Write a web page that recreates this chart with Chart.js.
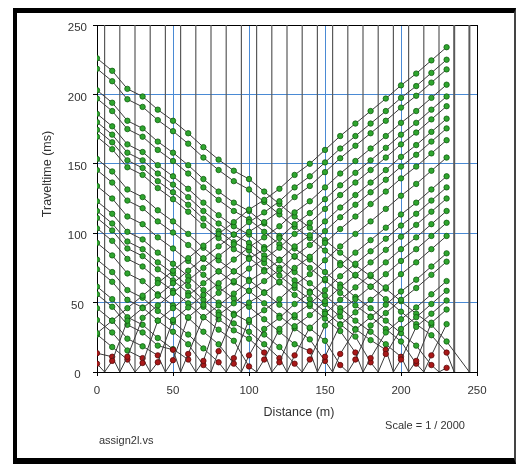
<!DOCTYPE html>
<html>
<head>
<meta charset="utf-8">
<title>Traveltime curves</title>
<script src="https://cdn.jsdelivr.net/npm/chart.js@4.4.1/dist/chart.umd.min.js"></script>
<style>
  html, body { margin: 0; padding: 0; background: #fff; }
  #wrap { position: relative; width: 517px; height: 464px; overflow: hidden; }
  #plot { position: absolute; left: 0; top: 0; }
  #frame {
    position: absolute; left: 13px; top: 8px; width: 503px; height: 456px;
    box-sizing: border-box; pointer-events: none;
    border-left: 4px solid #000; border-top: 5px solid #000;
    border-bottom: 6px solid #000; border-right: 2px solid #444;
  }
</style>
</head>
<body>
<div id="wrap">
  <canvas id="plot" width="517" height="464"></canvas>
  <div id="frame"></div>
</div>
<script>
// geophone positions (m) and shot positions (m)
const receiverX = [0, 10, 20, 30, 40, 50, 60, 70, 80, 90, 100, 110, 120, 130, 140, 150, 160, 170, 180, 190, 200, 210, 220, 230];
const shotX = [-15, 5, 15, 25, 35, 45, 55, 65, 75, 85, 95, 105, 115, 125, 135, 145, 155, 165, 175, 185, 195, 205, 215, 225, 235, 245];

// first-break times (ms) per shot, one value per geophone
const tShotM15 = [28, 37, 46, 55, 64, 73, 82, 91, 99.5, 108, 117, 124, 132, 142, 150, 160, 170, 179, 188, 197, 206.5, 215, 224.5, 234];
const tShot005 = [6, 8, 37, 46, 55, 64, 73, 82, 90.5, 99, 108, 115, 123, 133, 141, 151, 161, 170, 179, 188, 197.5, 206, 215.5, 225];
const tShot015 = [13.5, 11, 11, 39, 48, 57, 66, 75, 83.5, 92, 101, 108, 116, 126, 134, 144, 154, 163, 172, 181, 190.5, 199, 208.5, 218];
const tShot025 = [27, 18, 9, 6.5, 37, 46, 55, 64, 72.5, 81, 90, 97, 105, 115, 123, 133, 143, 152, 161, 170, 179.5, 188, 197.5, 207];
const tShot035 = [37.5, 28.5, 15.5, 10, 7, 37.5, 46.5, 55.5, 64, 72.5, 81.5, 88.5, 96.5, 106.5, 114.5, 124.5, 134.5, 143.5, 152.5, 161.5, 171, 179.5, 189, 198.5];
const tShot045 = [46, 37, 24, 18.5, 12, 8.5, 39.5, 48.5, 57, 65.5, 74.5, 81.5, 89.5, 99.5, 107.5, 117.5, 127.5, 136.5, 145.5, 154.5, 164, 172.5, 182, 191.5];
const tShot055 = [56, 47, 34, 28.5, 19, 16, 13, 39.5, 48, 56.5, 65.5, 72.5, 80.5, 90.5, 98.5, 108.5, 118.5, 127.5, 136.5, 145.5, 155, 163.5, 173, 182.5];
const tShot065 = [61.5, 52.5, 39.5, 34, 24.5, 16.5, 9, 8, 41, 49.5, 58.5, 65.5, 73.5, 83.5, 91.5, 101.5, 111.5, 120.5, 129.5, 138.5, 148, 156.5, 166, 175.5];
const tShot075 = [74, 65, 52, 46.5, 37, 29, 20, 5, 15, 41, 50, 57, 65, 75, 83, 93, 103, 112, 121, 130, 139.5, 148, 157.5, 167];
const tShot085 = [81, 72, 59, 53.5, 44, 36, 27, 17, 7, 10, 37.5, 44.5, 52.5, 62.5, 70.5, 80.5, 90.5, 99.5, 108.5, 117.5, 127, 135.5, 145, 154.5];
const tShot095 = [93, 84, 71, 65.5, 56, 48, 39, 29, 20, 6, 12, 31, 39, 49, 57, 67, 77, 86, 95, 104, 113.5, 122, 131.5, 141];
const tShot105 = [103.5, 94.5, 81.5, 76, 66.5, 58.5, 49.5, 39.5, 30.5, 22.5, 4, 9, 31, 41, 49, 59, 69, 78, 87, 96, 105.5, 114, 123.5, 133];
const tShot115 = [111, 102, 89, 83.5, 74, 66, 57, 47, 38, 30, 24, 14, 7, 33, 41, 51, 61, 70, 79, 88, 97.5, 106, 115.5, 125];
const tShot125 = [116, 107, 94, 88.5, 79, 71, 62, 52, 43, 35, 29, 20, 10, 12, 32, 42, 52, 61, 70, 79, 88.5, 97, 106.5, 116];
const tShot135 = [123, 114, 101, 95.5, 86, 78, 69, 59, 50, 42, 36, 27, 18, 6, 9, 33.5, 43.5, 52.5, 61.5, 70.5, 80, 88.5, 98, 107.5];
const tShot145 = [134, 125, 112, 106.5, 97, 89, 80, 70, 61, 53, 47, 38, 29, 20, 15, 11, 34, 43, 52, 61, 70.5, 79, 88.5, 98];
const tShot155 = [145.5, 136.5, 123.5, 118, 108.5, 100.5, 91.5, 81.5, 72.5, 64.5, 58.5, 49.5, 40.5, 31.5, 23.5, 8, 13, 30.5, 39.5, 48.5, 58, 66.5, 76, 85.5];
const tShot165 = [153.5, 144.5, 131.5, 126, 116.5, 108.5, 99.5, 89.5, 80.5, 72.5, 66.5, 57.5, 48.5, 39.5, 31.5, 22.5, 5, 9, 33.5, 42.5, 52, 60.5, 70, 79.5];
const tShot175 = [169.5, 160.5, 147.5, 142, 132.5, 124.5, 115.5, 105.5, 96.5, 88.5, 82.5, 73.5, 64.5, 55.5, 47.5, 38.5, 29.5, 14, 10, 28.5, 38, 46.5, 56, 65.5];
const tShot185 = [174.5, 165.5, 152.5, 147, 137.5, 129.5, 120.5, 110.5, 101.5, 93.5, 87.5, 78.5, 69.5, 60.5, 52.5, 43.5, 34.5, 25.5, 7, 13, 31, 39.5, 49, 58.5];
const tShot195 = [180, 171, 158, 152.5, 143, 135, 126, 116, 107, 99, 93, 84, 75, 66, 58, 49, 40, 31, 23, 16, 9, 32.5, 42, 51.5];
const tShot205 = [186, 177, 164, 158.5, 149, 141, 132, 122, 113, 105, 99, 90, 81, 72, 64, 55, 46, 37, 29, 20, 11, 8, 35.5, 45];
const tShot215 = [197, 188, 175, 169.5, 160, 152, 143, 133, 124, 116, 110, 101, 92, 83, 75, 66, 57, 48, 40, 31, 22, 6, 12, 34.5];
const tShot225 = [203, 194, 181, 175.5, 166, 158, 149, 139, 130, 122, 116, 107, 98, 89, 81, 72, 63, 54, 46, 37, 28, 19, 5, 3];
const tShot235 = [218.5, 209.5, 196.5, 191, 181.5, 173.5, 164.5, 154.5, 145.5, 137.5, 131.5, 122.5, 113.5, 104.5, 96.5, 87.5, 78.5, 69.5, 61.5, 52.5, 43.5, 34.5, 26.5, 14];
const tShot245 = [226, 217, 204, 198.5, 189, 181, 172, 162, 153, 145, 139, 130, 121, 112, 104, 95, 86, 77, 69, 60, 51, 42, 34, 22];

const shotTimes = [tShotM15, tShot005, tShot015, tShot025, tShot035, tShot045, tShot055, tShot065,
  tShot075, tShot085, tShot095, tShot105, tShot115, tShot125, tShot135, tShot145, tShot155,
  tShot165, tShot175, tShot185, tShot195, tShot205, tShot215, tShot225, tShot235, tShot245];

const xTicks = [0, 50, 100, 150, 200, 250];
const yTicks = [0, 50, 100, 150, 200, 250];

const GREEN = '#2fa52f', GREEN_EDGE = '#0f5f0f';
const RED = '#a81818', RED_EDGE = '#5c0808';
const BLUE = '#4a8ad4';

// a traveltime curve: geophone picks plus the shot point itself at t = 0
function shotCurve(s, times) {
  const pts = receiverX.map((x, j) => {
    const d = Math.abs(x - s);
    return { x, y: times[j], direct: d <= 5 || (d <= 15 && times[j] < 15) };
  });
  pts.push({ x: s, y: 0, src: true });
  return pts.sort((a, b) => a.x - b.x);
}

const datasets = [];

shotX.forEach((s, k) => {
  datasets.push({
    data: shotCurve(s, shotTimes[k]),
    showLine: true,
    borderColor: '#3a3a3a',
    borderWidth: 1,
    pointRadius: c => (c.raw && c.raw.src ? 0 : 2.7),
    pointBackgroundColor: c => (c.raw && c.raw.direct ? RED : GREEN),
    pointBorderColor: c => (c.raw && c.raw.direct ? RED_EDGE : GREEN_EDGE),
    pointBorderWidth: 0.8,
    order: 1,
  });
});

// vertical marker at every shot location inside the axis range
shotX.filter(s => s >= 0).forEach(s => {
  datasets.push({
    data: [{ x: s, y: 0 }, { x: s, y: 250 }],
    showLine: true,
    borderColor: '#5a5a5a',
    borderWidth: s > receiverX[receiverX.length - 1] ? 2 : 1.2,
    pointRadius: 0,
    order: 2,
  });
});

const captions = {
  id: 'captions',
  afterDraw(chart) {
    const { ctx } = chart;
    ctx.save();
    ctx.fillStyle = '#333';
    ctx.textBaseline = 'middle';
    ctx.font = '12.5px "Liberation Sans", Arial, sans-serif';
    ctx.textAlign = 'center';
    ctx.fillText('Distance (m)', 299, 413);
    ctx.save();
    ctx.translate(48, 174);
    ctx.rotate(-Math.PI / 2);
    ctx.fillText('Traveltime (ms)', 0, 0);
    ctx.restore();
    ctx.font = '11px "Liberation Sans", Arial, sans-serif';
    ctx.fillText('Scale = 1 / 2000', 425, 426);
    ctx.textAlign = 'left';
    ctx.fillText('assign2l.vs', 99, 441);
    ctx.restore();
  },
};

const gridColor = c => (c.tick && (c.tick.value === 0 || c.tick.value === 250) ? '#000' : BLUE);
const tickFont = { family: '"Liberation Sans", Arial, sans-serif', size: 11.5 };

new Chart(document.getElementById('plot'), {
  type: 'scatter',
  data: { datasets },
  options: {
    responsive: false,
    animation: false,
    devicePixelRatio: 1,
    layout: { padding: { left: 0, right: 40, top: 25, bottom: 0 } },
    plugins: { legend: { display: false }, tooltip: { enabled: false } },
    scales: {
      x: {
        type: 'linear', min: 0, max: 250,
        afterBuildTicks: sc => { sc.ticks = xTicks.map(v => ({ value: v })); },
        afterFit: sc => { sc.height = 92; },
        grid: { color: gridColor, lineWidth: 1, tickLength: 4, tickColor: '#000' },
        border: { color: '#000', width: 1 },
        ticks: { color: '#333', font: tickFont, padding: 8, maxRotation: 0 },
      },
      y: {
        type: 'linear', min: 0, max: 250,
        afterBuildTicks: sc => { sc.ticks = yTicks.map(v => ({ value: v })); },
        afterFit: sc => { sc.width = 97; },
        grid: { color: gridColor, lineWidth: 1, tickLength: 4, tickColor: '#000' },
        border: { color: '#000', width: 1 },
        ticks: { color: '#333', font: tickFont, padding: 6, crossAlign: 'center', labelOffset: 3 },
      },
    },
  },
  plugins: [captions],
});
</script>
</body>
</html>
